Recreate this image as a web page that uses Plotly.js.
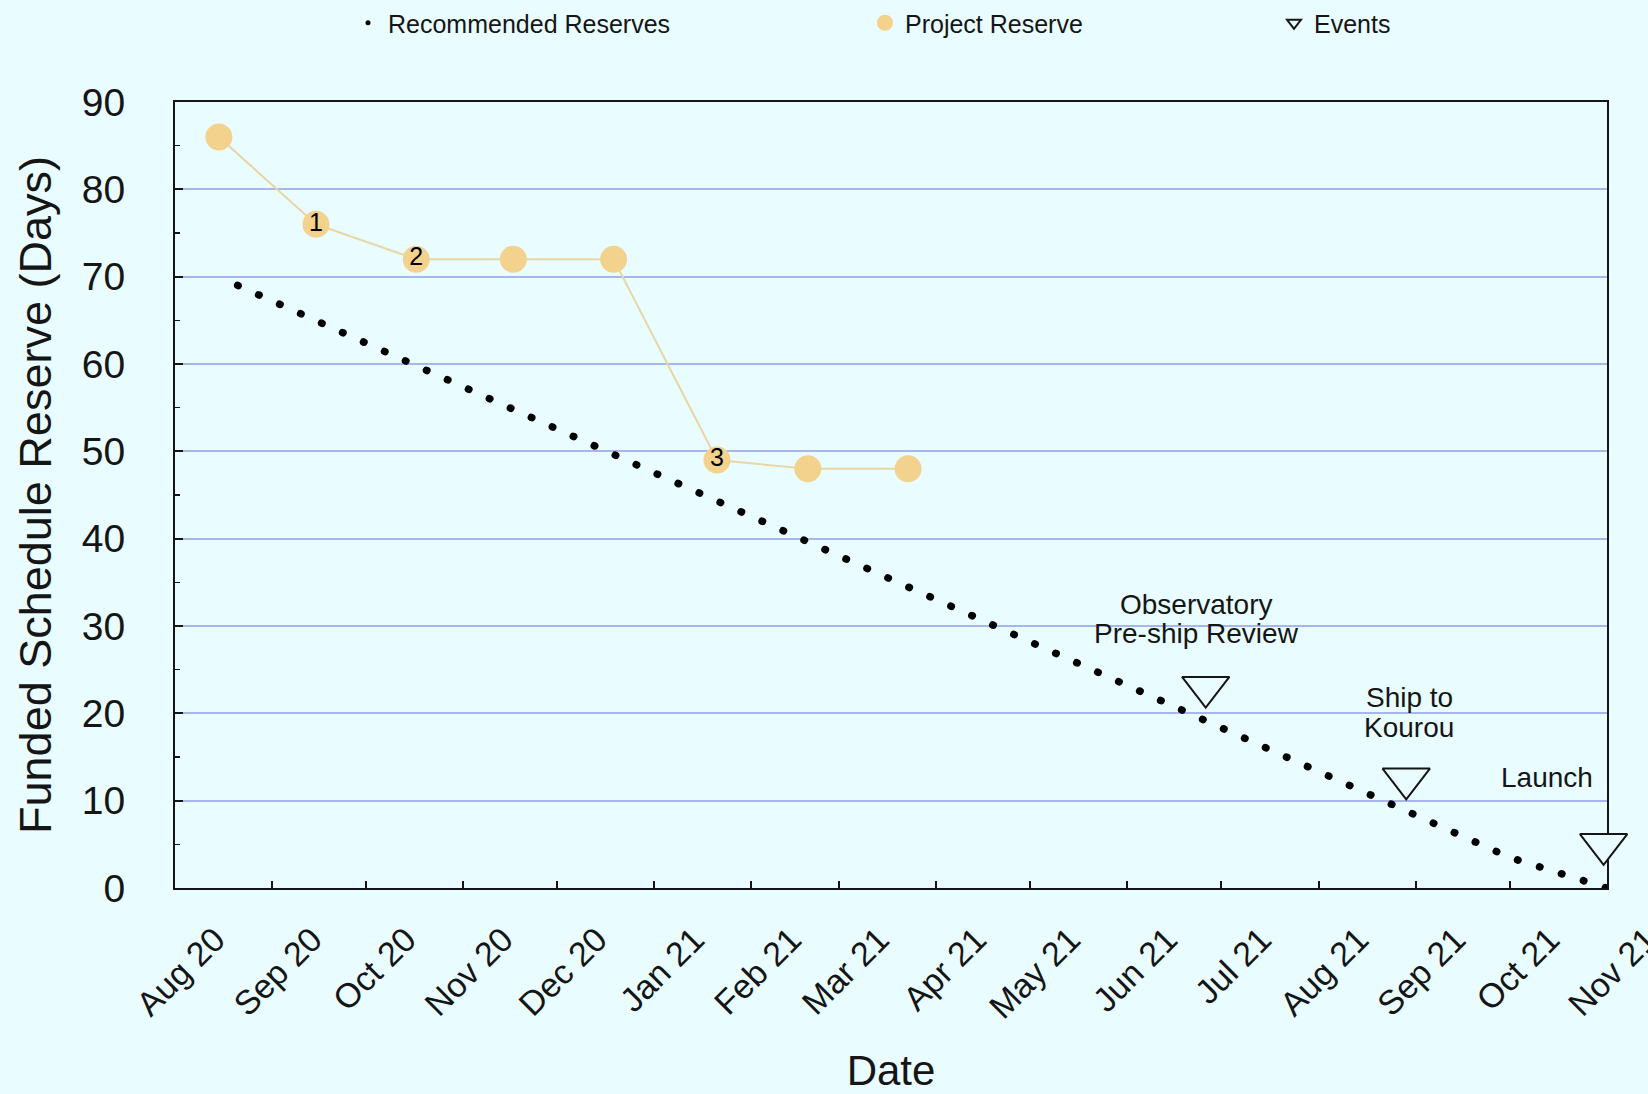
<!DOCTYPE html>
<html>
<head>
<meta charset="utf-8">
<script src="https://cdn.plot.ly/plotly-3.0.1.min.js"></script>
<style>
  html, body { margin: 0; padding: 0; background: #e9fcff; }
  #chart { width: 1648px; height: 1094px; }
  .scatterlayer .trace .js-line { stroke-linecap: round; }
</style>
</head>
<body>
<div id="chart"></div>
<script>
// ---- Data ----
const monthTicks = ['2020-08-01','2020-09-01','2020-10-01','2020-11-01','2020-12-01','2021-01-01',
  '2021-02-01','2021-03-01','2021-04-01','2021-05-01','2021-06-01','2021-07-01','2021-08-01',
  '2021-09-01','2021-10-01','2021-11-01'];
const monthLabels = ['Aug 20','Sep 20','Oct 20','Nov 20','Dec 20','Jan 21','Feb 21','Mar 21',
  'Apr 21','May 21','Jun 21','Jul 21','Aug 21','Sep 21','Oct 21','Nov 21'];

// Recommended reserves (line vertices)
const recDates = ['2020-08-21', '2021-10-01', '2021-11-01'];
const recDays  = [69, 3.5, 0];

// Project reserve
const projDates  = ['2020-08-15','2020-09-15','2020-10-17','2020-11-17','2020-12-19','2021-01-21','2021-02-19','2021-03-23'];
const projDays   = [86, 76, 72, 72, 72, 49, 48, 48];
const projLabels = ['', '1', '2', '', '', '3', '', ''];

// Events
const eventDates = ['2021-06-26', '2021-08-29', '2021-10-31'];
const eventDays  = [23, 12.5, 5];

// Event label lines
const eventLabelLines = [
  {text: 'Observatory',     x: '2021-06-23', y: 32.5},
  {text: 'Pre-ship Review', x: '2021-06-23', y: 29.1},
  {text: 'Ship to',         x: '2021-08-30', y: 21.8},
  {text: 'Kourou',          x: '2021-08-30', y: 18.4},
  {text: 'Launch',          x: '2021-10-13', y: 12.6}
];

// ---- Styles ----
const BG = '#e9fcff';
const FONT = '"Liberation Sans", Arial, Helvetica, sans-serif';
const INK = '#151515';
const GOLD = '#f3d28e';
const GOLD_LINE = '#e9d6a6';

const traces = [
  { // recommended reserves dotted line
    x: recDates, y: recDays, type: 'scatter', mode: 'lines',
    line: {color: '#000', width: 7.5, dash: '0.5px,22.5px'},
    showlegend: false, hoverinfo: 'skip', cliponaxis: false
  },
  { // legend entry for recommended reserves
    x: [null], y: [null], type: 'scatter', mode: 'markers',
    name: 'Recommended Reserves', marker: {color: '#000', size: 5},
    legend: 'legend', showlegend: true
  },
  { // project reserve connecting line
    x: projDates, y: projDays, type: 'scatter', mode: 'lines',
    line: {color: GOLD_LINE, width: 2}, showlegend: false, hoverinfo: 'skip'
  },
  { // project reserve markers
    x: projDates, y: projDays, type: 'scatter', mode: 'markers',
    name: 'Project Reserve', marker: {color: GOLD, size: 27},
    legend: 'legend2', showlegend: true, cliponaxis: false
  },
  { // project reserve number labels
    x: projDates, y: projDays, type: 'scatter', mode: 'text',
    text: projLabels, textposition: 'middle center',
    textfont: {family: FONT, size: 25, color: '#000'},
    showlegend: false, hoverinfo: 'skip', cliponaxis: false
  },
  { // events
    x: eventDates, y: eventDays, type: 'scatter', mode: 'markers',
    name: 'Events',
    marker: {symbol: 'triangle-down', size: 41, color: BG, line: {color: INK, width: 2}},
    legend: 'legend3', showlegend: true, cliponaxis: false
  }
];

const legendBase = {
  orientation: 'h', xref: 'container', yref: 'container',
  yanchor: 'middle', xanchor: 'left', bgcolor: 'rgba(0,0,0,0)',
  font: {family: FONT, size: 25, color: INK}
};

const layout = {
  width: 1648, height: 1094,
  paper_bgcolor: BG, plot_bgcolor: BG,
  margin: {l: 175, r: 41, t: 102, b: 206, pad: 0},
  font: {family: FONT, color: INK},
  showlegend: true,
  legend:  Object.assign({}, legendBase, {x: 348/1648, y: 1 - 23/1094, itemsizing: 'trace'}),
  legend2: Object.assign({}, legendBase, {x: 865/1648, y: 1 - 23/1094, itemsizing: 'trace'}),
  legend3: Object.assign({}, legendBase, {x: 1274/1648, y: 1 - 23/1094, itemsizing: 'constant'}),
  xaxis: {
    type: 'date', range: ['2020-08-01', '2021-11-01 02:00'],
    tickmode: 'array', tickvals: monthTicks, ticktext: monthLabels,
    tickangle: -45, ticks: 'inside', ticklen: 7, tickwidth: 2, tickcolor: INK,
    tickfont: {family: FONT, size: 34, color: INK},
    ticklabelshift: 40, ticklabelstandoff: 16, ticklabeloverflow: 'allow',
    showline: true, linecolor: INK, linewidth: 2, mirror: true,
    showgrid: false, zeroline: false, layer: 'below traces', automargin: false,
    title: {text: 'Date', font: {family: FONT, size: 42, color: INK}, standoff: 48}
  },
  yaxis: {
    range: [0, 90], tickmode: 'linear', tick0: 0, dtick: 10,
    ticks: 'inside', ticklen: 8, tickwidth: 2, tickcolor: INK,
    tickfont: {family: FONT, size: 39, color: INK},
    ticklabelstandoff: 40,
    minor: {dtick: 5, tick0: 0, ticks: 'inside', ticklen: 5, tickwidth: 1.5, tickcolor: INK, showgrid: false},
    showline: true, linecolor: INK, linewidth: 2, mirror: true,
    showgrid: true, gridcolor: '#a9b6ea', gridwidth: 2, zeroline: false,
    layer: 'below traces', automargin: false,
    title: {text: 'Funded Schedule Reserve (Days)', font: {family: FONT, size: 45, color: INK}, standoff: 16}
  },
  annotations: eventLabelLines.map(l => ({
    x: l.x, y: l.y, xref: 'x', yref: 'y', text: l.text, showarrow: false,
    xanchor: 'center', yanchor: 'middle',
    font: {family: FONT, size: 28, color: INK}
  }))
};

Plotly.newPlot('chart', traces, layout, {displayModeBar: false, staticPlot: true});
</script>
</body>
</html>
